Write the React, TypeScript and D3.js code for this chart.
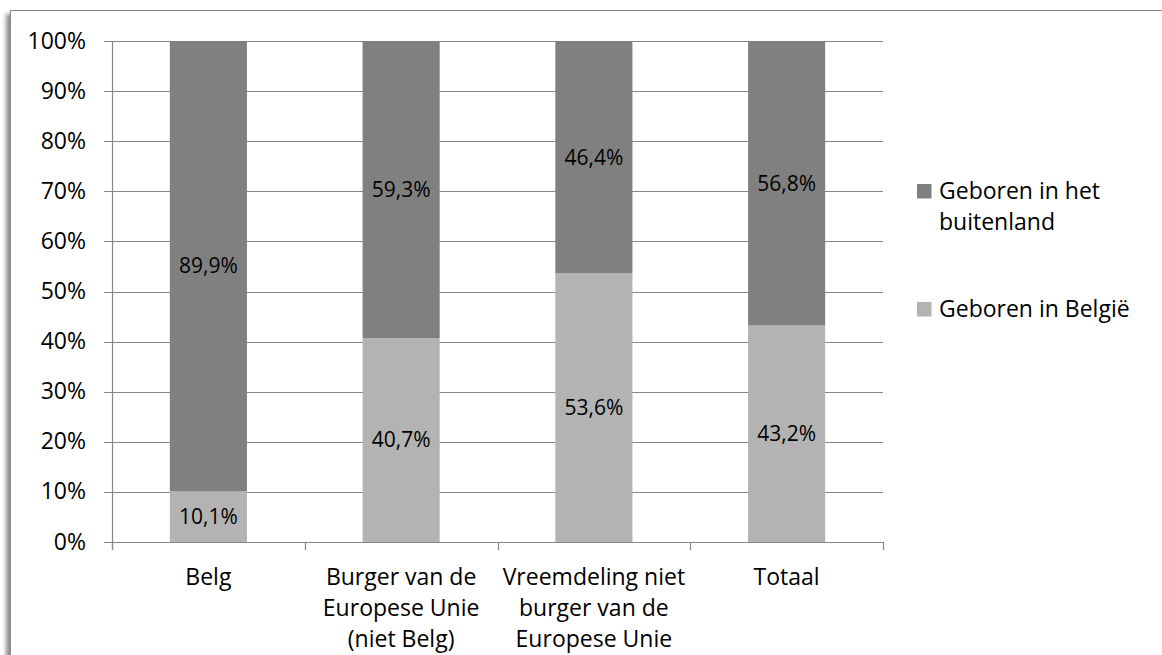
import React from "react";
import * as d3 from "d3";

const categories = [
  "Belg",
  "Burger van de Europese Unie (niet Belg)",
  "Vreemdeling niet burger van de Europese Unie",
  "Totaal",
];
const categoryLines = [
  ["Belg"],
  ["Burger van de", "Europese Unie", "(niet Belg)"],
  ["Vreemdeling niet", "burger van de", "Europese Unie"],
  ["Totaal"],
];
const bornInBelgium = [10.1, 40.7, 53.6, 43.2];
const bornAbroad = [89.9, 59.3, 46.4, 56.8];
const seriesNames = ["Geboren in het buitenland", "Geboren in België"];
const legendLines = [["Geboren in het", "buitenland"], ["Geboren in België"]];
const yTicks = [0, 10, 20, 30, 40, 50, 60, 70, 80, 90, 100];

const W = 1162;
const H = 655;
const FONT = "'Open Sans', Lato, sans-serif";
const DARK = "#808080";
const LIGHT = "#b3b3b3";
const GRID = "#878787";

export default function App() {
  const left = 112;
  const right = 883;
  const top = 41;
  const bottom = 542;

  const x = d3
    .scaleBand<string>()
    .domain(categories)
    .range([left, right])
    .paddingInner(0.6)
    .paddingOuter(0.3);
  const y = d3.scaleLinear().domain([0, 100]).range([bottom, top]);

  const step = x.step();
  const boundaries = d3.range(categories.length + 1).map((i) => left + i * step);

  const fmt = (v: number) => v.toFixed(1).replace(".", ",") + "%";

  const stack = d3
    .stack<any>()
    .keys(["belgium", "abroad"])(
      categories.map((c, i) => ({ cat: c, belgium: bornInBelgium[i], abroad: bornAbroad[i] }))
    );
  const colors: Record<string, string> = { belgium: LIGHT, abroad: DARK };

  return (
    <svg
      width={W}
      height={H}
      style={{ position: "absolute", left: 0, top: 0, background: "#fff" }}
      fontFamily={FONT}
    >
      <defs>
        <filter id="shadow" x="-5%" y="-5%" width="110%" height="110%">
          <feDropShadow dx={-4} dy={4} stdDeviation={2.2} floodColor="#000" floodOpacity={0.45} />
        </filter>
      </defs>
      <rect x={0} y={0} width={W} height={H} fill="#fff" />
      <rect
        x={10.5}
        y={10.5}
        width={1250}
        height={750}
        fill="#fff"
        stroke="#8a8a8a"
        strokeWidth={1}
        filter="url(#shadow)"
      />

      {/* gridlines and y ticks */}
      {yTicks.map((t) => (
        <g key={t}>
          <line
            x1={left - 8}
            x2={right}
            y1={Math.round(y(t)) + 0.5}
            y2={Math.round(y(t)) + 0.5}
            stroke={GRID}
            strokeWidth={1.2}
          />
          <text
            x={86}
            y={y(t) + 7.5}
            textAnchor="end"
            fontSize={23}
            fill="#000"
          >
            {t + "%"}
          </text>
        </g>
      ))}

      {/* bars */}
      {stack.map((layer) => (
        <g key={layer.key}>
          {layer.map((d, i) => (
            <rect
              key={i}
              x={x(categories[i])!}
              y={y(d[1])}
              width={x.bandwidth()}
              height={y(d[0]) - y(d[1])}
              fill={colors[layer.key]}
            />
          ))}
        </g>
      ))}

      {/* data labels */}
      {stack.map((layer) => (
        <g key={"l" + layer.key}>
          {layer.map((d, i) => (
            <text
              key={i}
              x={x(categories[i])! + x.bandwidth() / 2}
              y={y((d[0] + d[1]) / 2) + 7.3}
              textAnchor="middle"
              fontSize={21}
              fill="#000"
            >
              {fmt(d[1] - d[0])}
            </text>
          ))}
        </g>
      ))}

      {/* axes */}
      <line x1={left + 0.5} x2={left + 0.5} y1={top} y2={bottom + 8} stroke={GRID} strokeWidth={1.2} />
      <line x1={left} x2={right} y1={bottom + 0.5} y2={bottom + 0.5} stroke={GRID} strokeWidth={1.2} />
      {boundaries.map((b, i) => (
        <line
          key={i}
          x1={Math.round(b) + 0.5}
          x2={Math.round(b) + 0.5}
          y1={bottom}
          y2={bottom + 8}
          stroke={GRID}
          strokeWidth={1.2}
        />
      ))}

      {/* category labels */}
      {categoryLines.map((lines, i) => (
        <text
          key={i}
          textAnchor="middle"
          fontSize={23}
          fill="#000"
        >
          {lines.map((ln, j) => (
            <tspan key={j} x={x(categories[i])! + x.bandwidth() / 2} y={585 + j * 31}>
              {ln}
            </tspan>
          ))}
        </text>
      ))}

      {/* legend */}
      {seriesNames.map((name, k) => {
        const baseY = k === 0 ? 199 : 317;
        return (
          <g key={name}>
            <rect x={917} y={baseY - 15} width={14.5} height={14.5} fill={k === 0 ? DARK : LIGHT} />
            <text fontSize={23} fill="#000">
              {legendLines[k].map((ln, j) => (
                <tspan key={j} x={939} y={baseY + j * 31}>
                  {ln}
                </tspan>
              ))}
            </text>
          </g>
        );
      })}
    </svg>
  );
}
